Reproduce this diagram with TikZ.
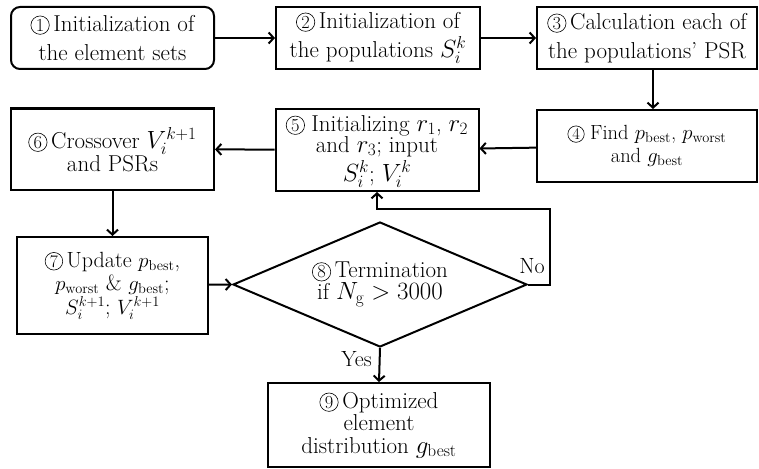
\documentclass[tikz,border=0pt]{standalone}
\usetikzlibrary{arrows.meta,shapes.geometric,calc}
\newcommand{\cnum}[1]{\tikz[baseline=(cn.base)]\node[draw,circle,line width=0.6pt,inner sep=0pt,minimum size=0.8em,font=\fontsize{0.8em}{0.8em}\selectfont](cn){#1};}
\newcommand{\rmsub}[1]{\mathrm{#1}}
\begin{document}
\begin{tikzpicture}[x=1pt,y=-1pt,
  box/.style={draw,line width=2pt,align=center,inner sep=2pt,font=\fontsize{23}{29.5}\selectfont},
  arr/.style={line width=2pt,-{Straight Barb[length=5pt,width=11pt,line width=2pt]}},
  lbl/.style={font=\fontsize{22}{24}\selectfont,inner sep=1pt}]
\useasboundingbox (0,0) rectangle (759,468);
\node[box,rounded corners=9pt,minimum width=203pt,minimum height=62pt] (b1) at (112.5,38) {\cnum{1}\,Initialization of\\the element sets};
\node[box,minimum width=204pt,minimum height=62pt] (b2) at (378,38) {\cnum{2}\,Initialization of\\the populations $S_i^k$};
\node[box,minimum width=220pt,minimum height=62pt] (b3) at (647,38) {\cnum{3}\,Calculation each of\\the populations’ PSR};
\node[box,minimum width=220pt,minimum height=72pt,font=\fontsize{20.5}{23}\selectfont] (b4) at (647,146) {\cnum{4}\;Find $p_{\rmsub{best}}$, $p_{\rmsub{worst}}$\\and $g_{\rmsub{best}}$};
\node[box,minimum width=203pt,minimum height=82pt,inner ysep=0pt,font=\fontsize{23}{21}\selectfont] (b5) at (377,150) {\rule{0pt}{19pt}\cnum{5}\;Initializing $r_1$, $r_2$\\and $r_3$; input\\[3pt]$S_i^k$; $V_i^k$};
\node[box,minimum width=203pt,minimum height=81pt,font=\fontsize{23}{21}\selectfont] (b6) at (112.5,149) {\rule{0pt}{22pt}\cnum{6}\,Crossover $V_i^{k+1}$\\and PSRs};
\node[box,minimum width=191pt,minimum height=97pt,font=\fontsize{22}{23.5}\selectfont] (b7) at (112.5,285.5) {\cnum{7}\,Update $p_{\rmsub{best}}$,\\$p_{\rmsub{worst}}$ \& $g_{\rmsub{best}}$;\\$S_i^{k+1}$; $V_i^{k+1}$};
\node[box,shape=diamond,aspect=2.35,inner sep=0pt,minimum width=294pt,minimum height=125pt,font=\fontsize{23}{22}\selectfont] (d8) at (380,284.5) {\cnum{8}\,Termination\\if $N_{\rmsub{g}} > 3000$};
\node[box,minimum width=222pt,minimum height=84pt,font=\fontsize{23}{22.5}\selectfont] (b9) at (379,425) {\cnum{9}\,Optimized\\element\\distribution $g_{\rmsub{best}}$};
\coordinate (lp) at (550,209);
\draw[arr] (b1) -- (b2);
\draw[arr] (b2) -- (b3);
\draw[arr] ([xshift=6pt]b3.south) -- ([xshift=6pt]b4.north);
\draw[arr] (b4) -- (b5);
\draw[arr] (b5) -- (b6);
\draw[arr] (b6) -- (b7);
\draw[arr] (b7) -- (d8.west);
\draw[arr] (d8.east) -| (lp) -| (b5.south);
\draw[arr] (d8.south) -- (b9.north);
\node[lbl,anchor=base east] (no) at (546,273) {No};
\node[lbl,anchor=base east] (yes) at (373,366) {Yes};
\end{tikzpicture}
\end{document}
